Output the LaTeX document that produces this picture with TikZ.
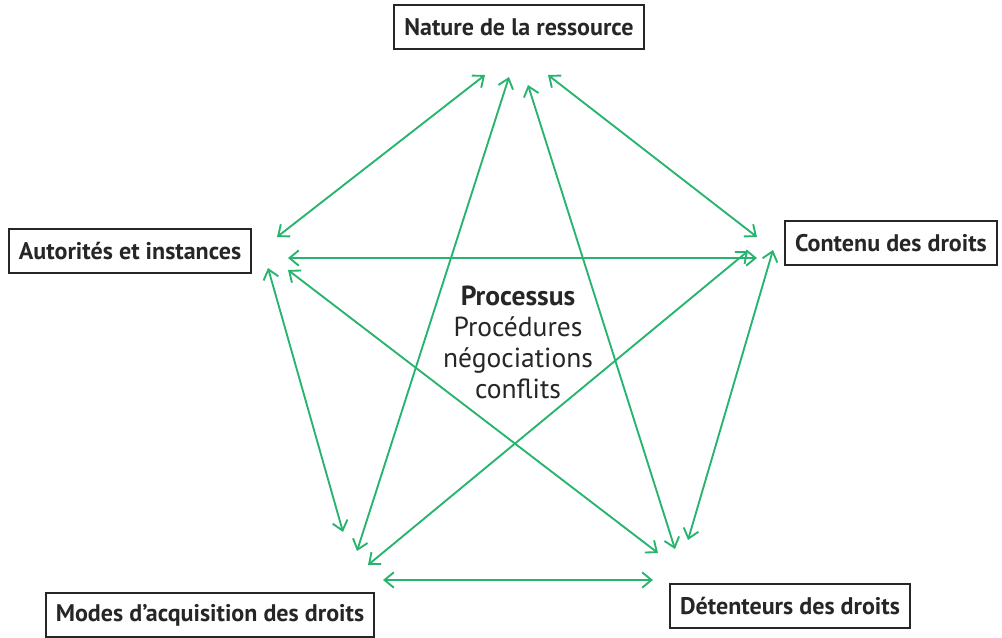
\documentclass[tikz,border=0pt]{standalone}
\usepackage{fontspec}
\setmainfont{PT Sans}
\usetikzlibrary{arrows.meta}
\definecolor{lienvert}{RGB}{38,180,110}
\tikzset{
  lien/.style={{Straight Barb[length=2.8mm,width=4.6mm]}-{Straight Barb[length=2.8mm,width=4.6mm]}, line width=1.6pt, draw=lienvert},
  pole/.style={draw=black!85, line width=1.7pt, inner xsep=0.3cm, minimum height=1.3cm, font=\fontsize{20.5}{24}\selectfont\bfseries, text=black!85},
}

\begin{document}
\begin{tikzpicture}[x=0.03cm, y=-0.03cm]
  \useasboundingbox (0,0) rectangle (1002,637);
  % les cinq poles
  \node[pole] (nat) at (519,27) {Nature de la ressource};
  \node[pole] (aut) at (130,251) {Autorités et instances};
  \node[pole] (con) at (891,243) {Contenu des droits};
  \node[pole] (mod) at (210,615) {Modes d’acquisition des droits};
  \node[pole] (det) at (790,606) {Détenteurs des droits};
  % centre
  \node[align=center, font=\fontsize{23.5}{26.5}\selectfont, text=black!85] (proc) at (518,342)
    {{\bfseries Processus}\\Procédures\\négociations\\conflits};
  % extremites des liens
  \coordinate (nA) at (485,75);  \coordinate (aN) at (277,237);
  \coordinate (nM) at (509,77);  \coordinate (mN) at (357,551);
  \coordinate (nD) at (528,85);  \coordinate (dN) at (675,549);
  \coordinate (nC) at (548,75);  \coordinate (cN) at (757,237);
  \coordinate (aC) at (288,258); \coordinate (cA) at (757,258);
  \coordinate (aM) at (268,268); \coordinate (mA) at (343,532);
  \coordinate (aD) at (288,270); \coordinate (dA) at (658,553);
  \coordinate (cM) at (748,251); \coordinate (mC) at (368,565);
  \coordinate (cD) at (773,250); \coordinate (dC) at (688,540);
  \coordinate (mD) at (383,580); \coordinate (dM) at (653,580);
  \foreach \a/\b in {nA/aN,nM/mN,nD/dN,nC/cN,aC/cA,aM/mA,aD/dA,cM/mC,cD/dC,mD/dM}
    \draw[lien] (\a) -- (\b);
\end{tikzpicture}
\end{document}
